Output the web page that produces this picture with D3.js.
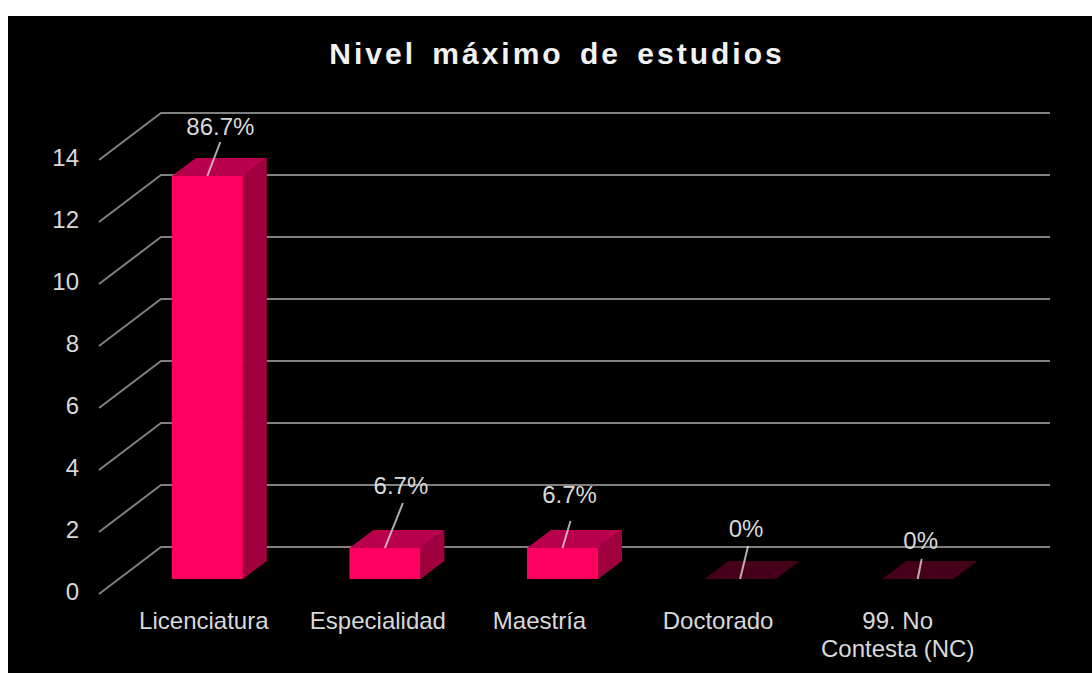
<!DOCTYPE html>
<html>
<head>
<meta charset="utf-8">
<script src="https://cdn.jsdelivr.net/npm/d3@7"></script>
<style>
  html, body { margin: 0; background: #fff; }
  svg { display: block; font-family: "Liberation Sans", Arial, sans-serif; }
</style>
</head>
<body>
<svg id="chart" width="1092" height="673"></svg>
<script>
const categories = ['Licenciatura', 'Especialidad', 'Maestría', 'Doctorado', '99. No|Contesta (NC)']
const counts = [13, 1, 1, 0, 0]
const percentLabels = ['86.7%', '6.7%', '6.7%', '0%', '0%']
const yTicks = [0, 2, 4, 6, 8, 10, 12, 14]

// layout

const wall = {x: 161, right: 1050}
const floorDepth = {dx: -62, dy: 47} // back wall -> front edge of the floor
const barLift = 32 // back wall -> front face of the bars
const barDepth = {dx: 24, dy: -18}
const labelNudge = [-3.5, -7, -23, -22, -20]
const leaderEnd = [[13, -34], [18, -45], [8, -27], [8, -33], [4, -20]]
const labelCenter = [[13, -49], [16, -62], [7, -53], [6, -50], [3, -38]]

const svg = d3.select('#chart')

svg.append('rect')
  .attr('x', 8).attr('y', 16)
  .attr('width', 1084).attr('height', 657)
  .attr('fill', '#000')

const y = d3.scaleLinear().domain([0, 14]).range([547, 113])
const x = d3.scaleBand().domain(d3.range(categories.length))
  .range([83, 1042]).paddingInner(0.6).paddingOuter(0.5)

svg.append('text')
  .attr('x', 557).attr('y', 64)
  .attr('text-anchor', 'middle')
  .attr('font-size', 30).attr('font-weight', 700)
  .attr('letter-spacing', 3).attr('word-spacing', 5)
  .attr('fill', '#f2f2f2')
  .text('Nivel máximo de estudios')

//

const grid = svg.append('g').attr('stroke', '#808080').attr('stroke-width', 2).attr('fill', 'none')

grid.selectAll('path')
  .data(yTicks)
  .join('path')
  .attr('d', d => {
    const p = d3.path()
    p.moveTo(wall.x + floorDepth.dx, y(d) + floorDepth.dy)
    p.lineTo(wall.x, y(d))
    p.lineTo(wall.right, y(d))
    return p.toString()
  })

const yAxis = svg.append('g')
  .attr('transform', `translate(79,${floorDepth.dy - 2})`)
  .call(d3.axisLeft(y).tickValues(yTicks).tickSize(0).tickPadding(0))

yAxis.select('.domain').remove()
yAxis.selectAll('text')
  .attr('font-family', '"Liberation Sans", Arial, sans-serif')
  .attr('font-size', 24)
  .attr('fill', '#d9d9d9')

//

const bars = svg.append('g').selectAll('g')
  .data(counts)
  .join('g')

const face = (pts) => d3.line()(pts) + 'Z'

bars.each(function (d, i) {
  const g = d3.select(this)
  const x0 = x(i)
  const x1 = x0 + x.bandwidth()
  const top = y(d) + barLift
  const base = y(0) + barLift
  const {dx, dy} = barDepth

  if (d === 0) {
    g.append('path')
      .attr('d', face([[x0, base], [x1, base], [x1 + dx, base + dy], [x0 + dx, base + dy]]))
      .attr('fill', '#470019')
    return
  }

  g.append('path')
    .attr('d', face([[x1, top], [x1 + dx, top + dy], [x1 + dx, base + dy], [x1, base]]))
    .attr('fill', '#a0003e')
  g.append('path')
    .attr('d', face([[x0, top], [x1, top], [x1 + dx, top + dy], [x0 + dx, top + dy]]))
    .attr('fill', '#b9004d')
  g.append('rect')
    .attr('x', x0).attr('y', top)
    .attr('width', x.bandwidth()).attr('height', base - top)
    .attr('fill', '#ff0061')
})

//

const labels = svg.append('g').selectAll('g')
  .data(counts)
  .join('g')
  .attr('transform', (d, i) => `translate(${x(i) + x.bandwidth() / 2},${y(d) + barLift})`)

labels.append('line')
  .attr('x1', 0).attr('y1', 0)
  .attr('x2', (d, i) => leaderEnd[i][0])
  .attr('y2', (d, i) => leaderEnd[i][1])
  .attr('stroke', '#d9d9d9').attr('stroke-opacity', 0.8).attr('stroke-width', 2)

labels.append('text')
  .attr('x', (d, i) => labelCenter[i][0])
  .attr('y', (d, i) => labelCenter[i][1] + 8)
  .attr('text-anchor', 'middle')
  .attr('font-size', 24)
  .attr('fill', '#d9d9d9')
  .text((d, i) => percentLabels[i])

//

const catLabels = svg.append('g').selectAll('text')
  .data(categories)
  .join('text')
  .attr('transform', (d, i) => `translate(${x(i) + x.bandwidth() / 2 + labelNudge[i]},629)`)
  .attr('text-anchor', 'middle')
  .attr('font-size', 24)
  .attr('fill', '#d9d9d9')

catLabels.selectAll('tspan')
  .data(d => d.split('|'))
  .join('tspan')
  .attr('x', 0)
  .attr('dy', (d, i) => i ? 28 : 0)
  .text(d => d)
</script>
</body>
</html>
